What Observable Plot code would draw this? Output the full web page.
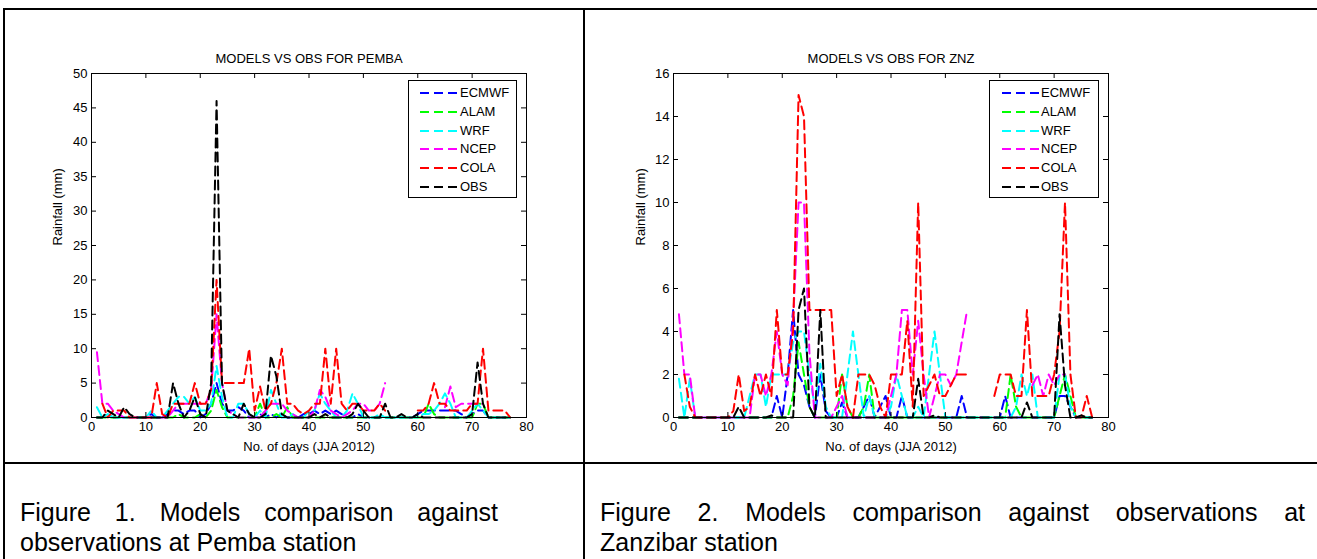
<!DOCTYPE html>
<html><head><meta charset="utf-8">
<script src="https://cdn.jsdelivr.net/npm/d3@7"></script>
<script src="https://cdn.jsdelivr.net/npm/@observablehq/plot@0.6"></script>
<style>
html,body{margin:0;padding:0;background:#fff;}
#page{position:relative;width:1317px;height:559px;overflow:hidden;background:#fff;font-family:"Liberation Sans",Arial,sans-serif;}
.line{position:absolute;background:#000;}
.chart{position:absolute;}
.chart svg{overflow:visible;}
.legend{position:absolute;border:1px solid #000;background:#fff;box-sizing:border-box;}
.legend .row{position:absolute;left:0;height:16px;font-size:13px;line-height:16px;color:#000;}
.legend .row svg{position:absolute;top:0;}
.legend .row span{position:absolute;top:0;white-space:nowrap;}
.caption{position:absolute;font-size:25px;line-height:30px;color:#000;white-space:nowrap;}
.just{text-align:justify;text-align-last:justify;white-space:normal;}
</style></head><body><div id="page"></div>
<script>
// ---------------- data ----------------
const seriesNames = ["ECMWF", "ALAM", "WRF", "NCEP", "COLA", "OBS"];
const xTicks = [0, 10, 20, 30, 40, 50, 60, 70, 80];
const yTicksPemba = [0, 5, 10, 15, 20, 25, 30, 35, 40, 45, 50];
const yTicksZnz = [0, 2, 4, 6, 8, 10, 12, 14, 16];
const titlePemba = "MODELS VS OBS FOR PEMBA";
const titleZnz = "MODELS VS OBS FOR ZNZ";
const xLabel = "No. of days (JJA 2012)";
const yLabel = "Rainfall (mm)";
const caption1 = ["Figure 1. Models comparison against", "observations at Pemba station"];
const caption2 = ["Figure 2. Models comparison against observations at", "Zanzibar station"];

// Pemba daily rainfall, days 1..77
const pembaECMWF = [0,0,0.5,0,0,0,0,0,0,0, 0.5,0,0,0.5,1,1,0.5,1,1,0, 0.5,2,5,2,1,1,1.5,1,0,0, 0.5,0,0.5,0,0.5,0,0,0,0.5,0.5, 1,0.5,1,0.5,1,0.5,0,0,0.5,0, 0,0,0,0,0,0,0,0,0,0.5, 1,1,1,1,1,1,1,0.5,0,0.5, 1,1,0,0,0,0,0];
const pembaALAM = [0,0,0,0,0,0,0,0,0,0, 0,0,0,0,0,0.5,0,0,0,0.5, 0,1,4,1.5,0,0,0,0,0,0, 2,0,0,0.5,0,1.5,0,0,0,0, 0,0,0,0,0,0,0,0,0,0, 0,0,0,0,0,0,0,0,0,0, 0,2,0.5,0,0,0,0,0,0,0, 2,2,0,0,0,0,0];
const pembaWRF = [1.5,0,0.5,0,0,0,0,0,0,0, 1,0,0,1,2,3,3,2,3,1, 1,2,7.5,3,0,0,2,2,0.5,0, 1,0,4,2,0,0,0.5,0,0,1, 1,3.5,2,1,0,0,1,3.5,2,0, 0,0,0.5,0,0,0,0,0,0,0, 0.5,0.5,1,2,3.5,2,0,0,0,1, 2,1,0,0,0,0,0];
const pembaNCEP = [9.5,2,2,1,0.5,0,0,0,0,0, 0,0,0,0,1,2,2,2,2,2, 2,4,15,5,1,0.5,0,0,0,0, 0,1,2,2,2,1,0.5,0,0,0, 1,4,3,1,0.5,0,0.5,1,2,2, 1,1,2,5,null,null,null,null,null,null, null,null,null,null,1.5,4.5,1.5,2,2,2, 2,2,null,null,null,null,null];
const pembaCOLA = [null,2,0,1,1,1,0,0,0,0, 0,5,0.5,0,2,2,2,2,5,2, 2,4,20,5,5,5,5,5,10,1, 4.5,1,2,5,10,2,2,1,0.5,1, 2,2,10,2,10,2,1,2,2,1, 1,1,2,1,null,null,null,null,null,1, 1,2,5,2,2,1,1,1,1,2, 2,10,1,1,1,1,0];
const pembaOBS = [0,0,1,0.5,0,1.5,0.5,0,0,0, 0,0,0,0,5,2,0,1,3,0.5, 0,5,46,5,1,0.5,0,2,0.5,0, 0,0.5,9,6,0.5,0,0,0,0,0, 0.5,0,0.5,0,0,0,0,0.5,2,1, 0,0,0,2,0,0,0.5,0,0,0.5, 0,0,0,0,0,0,0,0,0,0.5, 8,2,0,0,0,0,0];

// Zanzibar daily rainfall, days 1..77
const znzECMWF = [0,0,0,0,0,0,0,0,0,0, 0,0,0,0,0,0,0,0,1,0, 2,5,2,1.5,0.5,0,2,0.3,0,0, 0.7,0,0,0,0.5,1,0,0.5,1,0, 0,1,0,0,0,0,0,0,0,0, 0,0,1,0,0,0,0,0,0,0, 1,0,0,0,0,0,0,0,0,0, 1,1,0.5,0,0,0,0];
const znzALAM = [0,0,0,0,0,0,0,0,0,0, 0,0,0,0,0,0,0,0,0,0, 0,1,3.5,2,0.5,0,0,0,0,0, 2,0.5,0,0,0.5,2,0,0,0,0, 0,0,0,0,0,0,0,0,0,0, 0,0,0,0,0,0,0,0,0,0, 0,2,0.5,0,0,0,0,0,0,0, 1,2,1,0,0,0,0];
const znzWRF = [1.8,0,1.8,0,0,0,0,0,0,0, 0,0,0,1,2,2,0.5,2,2,2, 2,3.5,4,4,2,0.5,2.5,0.5,0,0, 0,2,4,2,0,1,0,0,0,0.5, 2,1,0,0,0.5,0,2,4,2,0, 0,0,0,0,0,0,0,0,0,0, 0,0,0.5,2,1,2,0,0,0,0, 2,2,0.5,0,0,0,0];
const znzNCEP = [4.8,2,2,0,0,0,0,0,0,0, 0,0,0,0,2,2,1,2,4,2, 1.5,4.5,10,10,3,0,0,0,0,0.5, 1,0,0,0,0,0,0,0,0,1, 2,5,5,2,4.5,2,0,1,2,2, 1.5,2,3.5,5,null,null,null,null,null,null, null,null,null,null,null,1.5,2,1,2,1.5, 2,2,null,null,null,null,null];
const znzCOLA = [null,2,0.5,0,0,0,0,0,0,0, 0.3,2,0.3,0.5,2,1,2,1,5,2, 2,4,15,14,5,5,5,5,5,1, 2,0.5,0,2,2,2,1.5,0.5,0,2, 2,2,4.5,0.5,10,1,1.5,2,1,1, 1.5,2,2,2,null,null,null,null,1,2, 2,2,1,1,5,1,1,1,1,2, 4,10,2,0,0,1,0];
const znzOBS = [0,0,0,0,0,0,0,0,0,0, 0,0.5,0,0,0,0,0,0.1,0,0, 0,0,5,6,0.5,0,5,0,0,0, 0,0,0,0,0,0,0,0,0,0, 0,0,0,0,1.8,0,0,0.1,0,0, 0,0,0,0,0,0,0,0,0,0, 0,0,0,0,0.7,0,0,0,0,0, 4.8,1.5,0,0,0.1,0,0];

// ---------------- styles ----------------
const seriesColors = {ECMWF: "#0000ff", ALAM: "#00ff00", WRF: "#00ffff", NCEP: "#ff00ff", COLA: "#ff0000", OBS: "#000000"};
const dash = "9,5";
const lineW = 2;
const fs = 13;
const tickLen = 5;

const page = document.getElementById("page");
function addLine(l, t, w, h) {
  const d = document.createElement("div");
  d.className = "line";
  Object.assign(d.style, {left: l + "px", top: t + "px", width: w + "px", height: h + "px"});
  page.appendChild(d);
}
addLine(3, 8, 1314, 2);
addLine(3, 8, 2, 551);
addLine(583, 8, 2, 551);
addLine(3, 462, 1314, 2);

function makeChart(cfg) {
  const innerW = cfg.width - cfg.ml - cfg.mr;
  const innerH = cfg.height - cfg.mt - cfg.mb;
  const marks = [];
  seriesNames.forEach((name, k) => {
    const vals = cfg.series[k];
    marks.push(Plot.line(vals, {
      x: (d, i) => i + 1, y: d => d,
      stroke: seriesColors[name], strokeWidth: lineW, strokeDasharray: dash
    }));
  });
  marks.push(Plot.frame({stroke: "#000", strokeWidth: 1}));
  // inward tick marks on all four sides (MATLAB style)
  marks.push(Plot.ruleX(xTicks, {x: d => d, insetTop: innerH - tickLen, stroke: "#000"}));
  marks.push(Plot.ruleX(xTicks, {x: d => d, insetBottom: innerH - tickLen, stroke: "#000"}));
  marks.push(Plot.ruleY(cfg.yTicks, {y: d => d, insetRight: innerW - tickLen, stroke: "#000"}));
  marks.push(Plot.ruleY(cfg.yTicks, {y: d => d, insetLeft: innerW - tickLen, stroke: "#000"}));
  marks.push(Plot.axisX({ticks: xTicks, anchor: "bottom", tickSize: 0, tickPadding: 4, fontSize: fs, label: null}));
  marks.push(Plot.axisY({ticks: cfg.yTicks, anchor: "left", tickSize: 0, tickPadding: 4, fontSize: fs, label: null}));
  marks.push(Plot.text([cfg.title], {frameAnchor: "top", lineAnchor: "middle", dy: -15, fontSize: fs}));
  marks.push(Plot.text([xLabel], {frameAnchor: "bottom", lineAnchor: "middle", dy: 29, fontSize: fs}));
  marks.push(Plot.text([yLabel], {frameAnchor: "left", lineAnchor: "middle", dx: -cfg.yLabelOffset, rotate: -90, fontSize: fs}));
  const svg = Plot.plot({
    width: cfg.width, height: cfg.height,
    marginLeft: cfg.ml, marginRight: cfg.mr, marginTop: cfg.mt, marginBottom: cfg.mb,
    x: {domain: [xTicks[0], xTicks[xTicks.length - 1]]},
    y: {domain: [cfg.yTicks[0], cfg.yTicks[cfg.yTicks.length - 1]]},
    style: {fontFamily: "Liberation Sans, Arial, sans-serif", fontSize: fs + "px", background: "transparent", color: "#000"},
    marks
  });
  const wrap = document.createElement("div");
  wrap.className = "chart";
  wrap.style.left = cfg.left + "px";
  wrap.style.top = cfg.top + "px";
  wrap.appendChild(svg);
  page.appendChild(wrap);

  // legend
  const lg = document.createElement("div");
  lg.className = "legend";
  Object.assign(lg.style, {left: cfg.legend.left + "px", top: cfg.legend.top + "px", width: cfg.legend.width + "px", height: cfg.legend.height + "px"});
  seriesNames.forEach((name, k) => {
    const row = document.createElement("div");
    row.className = "row";
    row.style.top = (cfg.legend.firstRow + k * cfg.legend.step - 8) + "px";
    row.style.width = cfg.legend.width + "px";
    const sw = d3.create("svg").attr("width", 40).attr("height", 16)
      .style("left", cfg.legend.swatchLeft + "px");
    sw.append("line").attr("x1", 0).attr("x2", 37).attr("y1", 8).attr("y2", 8)
      .attr("stroke", seriesColors[name]).attr("stroke-width", lineW).attr("stroke-dasharray", dash);
    row.appendChild(sw.node());
    const sp = document.createElement("span");
    sp.textContent = name;
    sp.style.left = cfg.legend.textLeft + "px";
    row.appendChild(sp);
    lg.appendChild(row);
  });
  page.appendChild(lg);
}

makeChart({
  series: [pembaECMWF, pembaALAM, pembaWRF, pembaNCEP, pembaCOLA, pembaOBS],
  yTicks: yTicksPemba, title: titlePemba,
  left: 0, top: 40, width: 584, height: 420, ml: 91, mr: 58, mt: 33, mb: 43,
  yLabelOffset: 34,
  legend: {left: 408, top: 80, width: 109, height: 118, firstRow: 12, step: 18.8, swatchLeft: 11, textLeft: 51}
});
makeChart({
  series: [znzECMWF, znzALAM, znzWRF, znzNCEP, znzCOLA, znzOBS],
  yTicks: yTicksZnz, title: titleZnz,
  left: 585, top: 40, width: 732, height: 420, ml: 88, mr: 209, mt: 33, mb: 43,
  yLabelOffset: 33,
  legend: {left: 989, top: 80, width: 110, height: 118, firstRow: 12, step: 18.8, swatchLeft: 12, textLeft: 51}
});

function addCaption(lines, left, width, top) {
  const a = document.createElement("div");
  a.className = "caption just";
  Object.assign(a.style, {left: left + "px", top: top + "px", width: width + "px"});
  a.textContent = lines[0];
  page.appendChild(a);
  const b = document.createElement("div");
  b.className = "caption";
  Object.assign(b.style, {left: left + "px", top: (top + 30) + "px"});
  b.textContent = lines[1];
  page.appendChild(b);
}
addCaption(caption1, 20, 478, 497);
addCaption(caption2, 600, 705, 497);
</script>
</body></html>
